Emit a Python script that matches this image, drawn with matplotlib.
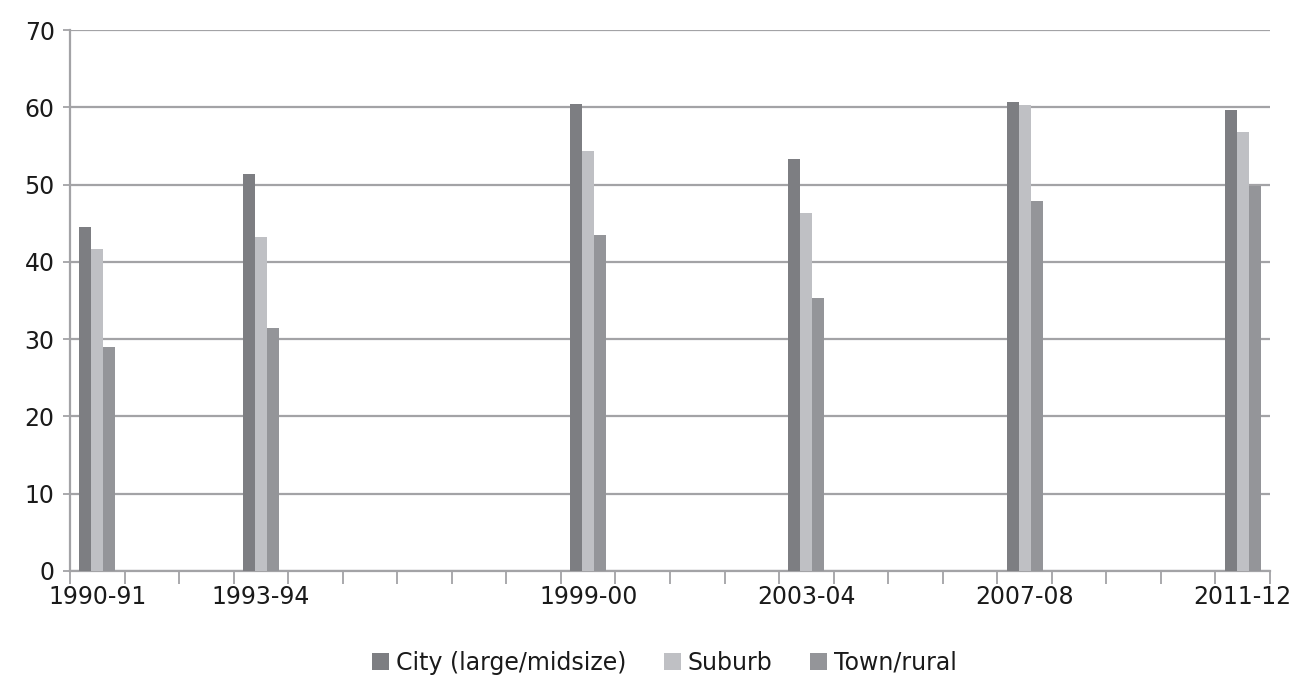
import matplotlib.pyplot as plt
import numpy as np

# colours
CITY_COLOR = '#7d7e82'
SUBURB_COLOR = '#bfc0c4'
TOWN_COLOR = '#949599'
GRID_COLOR = '#a3a3a6'
TEXT_COLOR = '#1a1a1a'

# data
start_years = [1990, 1993, 1999, 2003, 2007, 2011]
year_labels = ['1990-91', '1993-94', '1999-00', '2003-04', '2007-08', '2011-12']
city = [44.5, 51.4, 60.4, 53.3, 60.7, 59.7]
suburb = [41.6, 43.2, 54.3, 46.3, 60.3, 56.8]
town = [29.0, 31.4, 43.5, 35.3, 47.9, 49.8]

plt.rcParams['font.family'] = 'DejaVu Sans'

fig = plt.figure(figsize=(13.03, 6.79), dpi=100)
ax = fig.add_axes([70 / 1303, 1 - 571 / 679, 1200 / 1303, 541 / 679])

x = np.array(start_years, dtype=float)
w = 0.22
ax.bar(x + 0.5 - w, city, width=w, color=CITY_COLOR, label='City (large/midsize)', zorder=3)
ax.bar(x + 0.5, suburb, width=w, color=SUBURB_COLOR, label='Suburb', zorder=3)
ax.bar(x + 0.5 + w, town, width=w, color=TOWN_COLOR, label='Town/rural', zorder=3)

ax.set_xlim(1990, 2012)
ax.set_ylim(0, 70)
ax.set_yticks(range(0, 71, 10))
ax.yaxis.grid(True, color=GRID_COLOR, linewidth=1.6, zorder=0)
ax.set_axisbelow(True)

# yearly tick marks, labels centred in each interval
ax.set_xticks(range(1990, 2013))
ax.set_xticklabels([])
ax.set_xticks(x + 0.5, minor=True)
ax.set_xticklabels(year_labels, minor=True)
ax.tick_params(axis='x', which='major', length=9, width=1.3, color=GRID_COLOR, direction='out')
ax.tick_params(axis='x', which='minor', length=0, pad=10, labelsize=17, labelcolor=TEXT_COLOR)
ax.tick_params(axis='y', length=5, width=1.3, color=GRID_COLOR, labelsize=17,
               labelcolor=TEXT_COLOR, pad=6)

for side in ['top', 'right']:
    ax.spines[side].set_visible(False)
for side in ['left', 'bottom']:
    ax.spines[side].set_color(GRID_COLOR)
    ax.spines[side].set_linewidth(1.6)

fig.legend(loc='center', bbox_to_anchor=(0.51, 1 - 663 / 679), ncol=3, frameon=False,
           fontsize=17, handlelength=0.7, handleheight=0.7, handletextpad=0.3,
           columnspacing=1.6, labelcolor=TEXT_COLOR)

fig.savefig('out.png', dpi=100)
